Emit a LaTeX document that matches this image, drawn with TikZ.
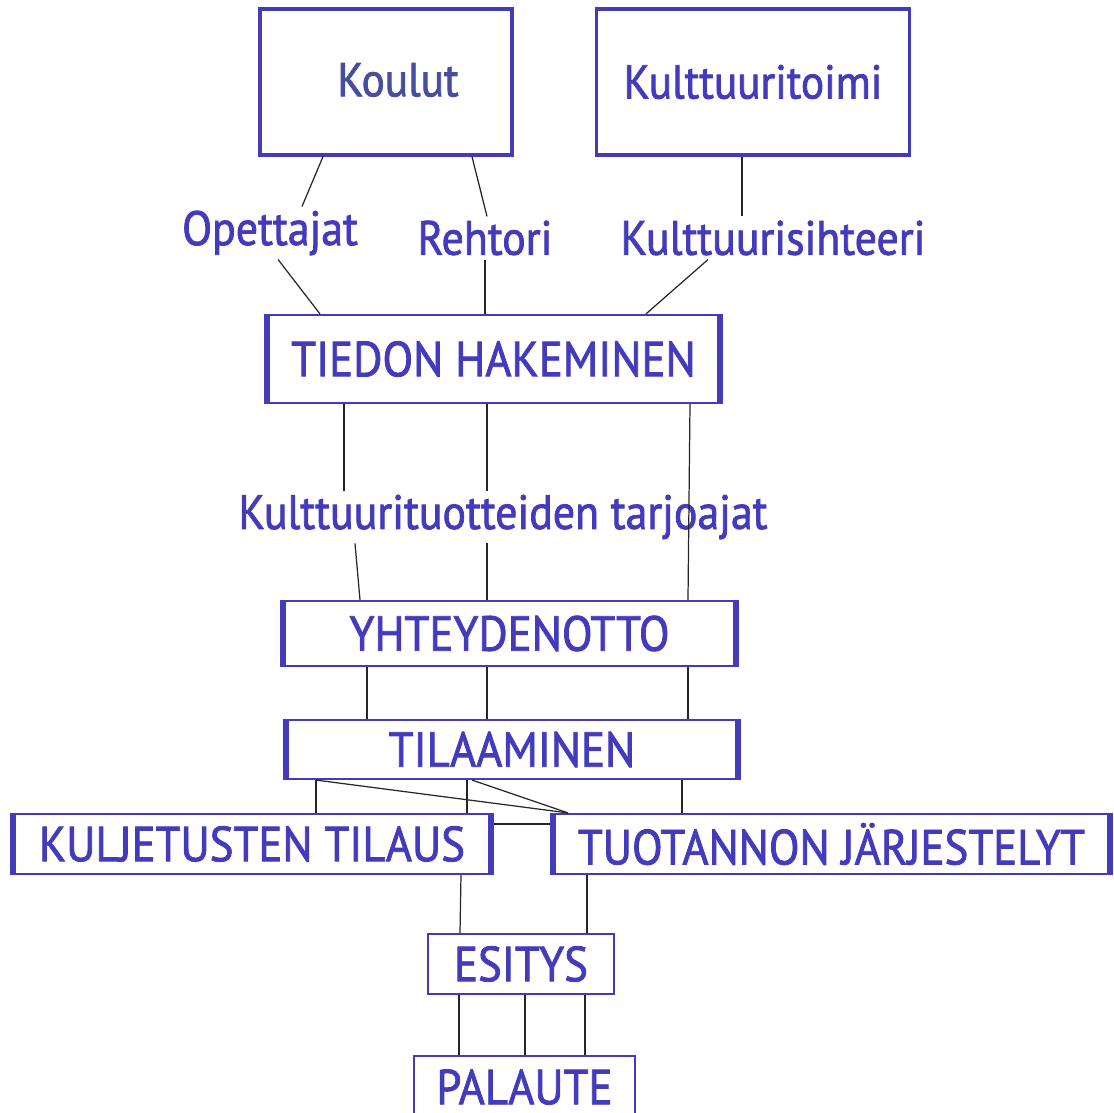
\documentclass[tikz,border=0pt]{standalone}
\usepackage{fontspec}
\setmainfont[FakeStretch=0.91,FakeBold=1.6]{PT Sans}
\definecolor{blu}{RGB}{68,58,188}
\definecolor{greyblu}{RGB}{72,78,158}
\tikzstyle{topbox}=[draw=blu,line width=0.9pt,text=blu,font=\fontsize{13.5}{16}\selectfont]
\tikzstyle{sidebox}=[draw=blu,line width=0.6pt,text=blu,inner sep=0pt,font=\fontsize{14}{17}\selectfont,
  path picture={\draw[blu,line width=2.8pt]
    (path picture bounding box.north west) -- (path picture bounding box.south west)
    (path picture bounding box.north east) -- (path picture bounding box.south east);}]
\tikzstyle{plainbox}=[draw=blu,line width=0.6pt,text=blu,inner sep=0pt,font=\fontsize{14}{17}\selectfont]
\tikzstyle{role}=[text=blu,inner sep=1pt,font=\fontsize{13.7}{16}\selectfont]
\tikzstyle{link}=[draw,black!85,line width=0.35pt]

\begin{document}
\begin{tikzpicture}[x=0.01cm, y=-0.01cm]
    \useasboundingbox (0,0) rectangle (1114,1113);
    % organisations at the top
    \node[topbox,minimum width=2.52cm,minimum height=1.46cm] (koulut) at (386,82) {};
    \node[text=greyblu,font=\fontsize{13.5}{16}\selectfont] (kouluttxt) at (398,80) {Koulut};
    \node[topbox,minimum width=3.12cm,minimum height=1.46cm] (toimi) at (753,82) {Kulttuuritoimi};
    % people
    \foreach \pos/\name/\txt in {{(270,233)/opettajat/Opettajat}, {(485,238)/rehtori/Rehtori},
        {(773,238)/sihteeri/Kulttuurisihteeri}, {(503,517)/tarjoajat/Kulttuurituotteiden tarjoajat}}
        \node[role] (\name) at \pos {\txt};
    % process steps
    \node[sidebox,minimum width=4.57cm,minimum height=0.88cm] (haku) at (493.5,359) {TIEDON HAKEMINEN};
    \node[sidebox,minimum width=4.57cm,minimum height=0.65cm] (yhteys) at (509.5,633.5) {YHTEYDENOTTO};
    \node[sidebox,minimum width=4.56cm,minimum height=0.59cm] (tilaus) at (512,749.5) {TILAAMINEN};
    \node[sidebox,minimum width=4.82cm,minimum height=0.60cm] (kuljetus) at (252,844) {KULJETUSTEN TILAUS};
    \node[sidebox,minimum width=5.61cm,minimum height=0.60cm] (tuotanto) at (831.5,844) {TUOTANNON JÄRJESTELYT};
    \node[plainbox,minimum width=1.86cm,minimum height=0.60cm] (esitys) at (521,964) {ESITYS};
    \node[plainbox,minimum width=2.21cm,minimum height=0.62cm] (palaute) at (524.5,1087) {PALAUTE};
    % connectors, x where they leave and where they arrive
    \foreach \a/\xa/\b/\xb in {koulut.south/323/opettajat.north/302, koulut.south/472/rehtori.north/487,
        toimi.south/742/sihteeri.north/742, opettajat.south/278/haku.north/320,
        rehtori.south/485/haku.north/485, sihteeri.south/708/haku.north/646,
        haku.south/344/tarjoajat.north/344, haku.south/487/tarjoajat.north/487,
        haku.south/690/yhteys.north/688, tarjoajat.south/355/yhteys.north/360,
        tarjoajat.south/487/yhteys.north/487, yhteys.south/367/tilaus.north/367,
        yhteys.south/487/tilaus.north/487, yhteys.south/688/tilaus.north/688,
        tilaus.south/316/kuljetus.north/316, tilaus.south/467/kuljetus.north/467,
        tilaus.south/316/tuotanto.north/568, tilaus.south/472/tuotanto.north/568,
        tilaus.south/682/tuotanto.north/682, kuljetus.south/461/esitys.north/460,
        tuotanto.south/587/esitys.north/587, esitys.south/459/palaute.north/459,
        esitys.south/525/palaute.north/525, esitys.south/585/palaute.north/585}
        \path[link] (\xa,0 |- \a) -- (\xb,0 |- \b);
    \path[link] (kuljetus.east |- 0,824) -- (tuotanto.west |- 0,824);
\end{tikzpicture}
\end{document}
